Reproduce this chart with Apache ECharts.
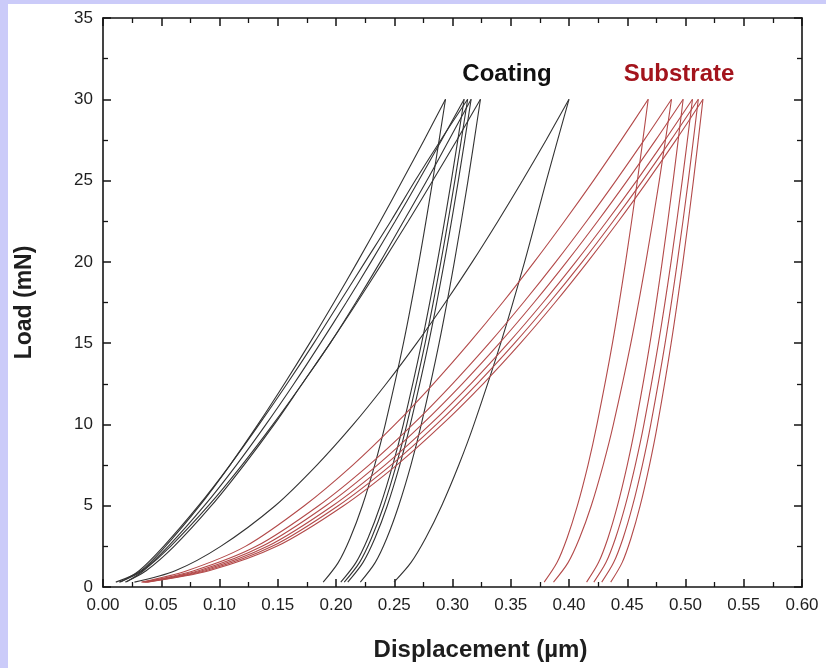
<!DOCTYPE html>
<html><head><meta charset="utf-8">
<script src="https://cdn.jsdelivr.net/npm/echarts@6/dist/echarts.min.js"></script>
<style>
html,body{margin:0;padding:0;background:#cbcbf9;width:826px;height:668px;overflow:hidden}
#chart{position:absolute;left:8px;top:4px;width:818px;height:664px;background:#fff}
</style></head><body><div id="chart"></div>
<script>
// Load levels (mN)
const loadLevels = [0.3, 1, 2.5, 5, 7.5, 10, 12.5, 15, 17.5, 20, 22.5, 25, 27.5, 30];
const unloadLevels = [30, 25, 20, 15, 10, 7.5, 5, 3, 1.5, 0.3];

// Coating: displacement (µm) on loading / unloading
const coating1Load = [0.011, 0.0326, 0.0536, 0.083, 0.109, 0.133, 0.1557, 0.1774, 0.1982, 0.2184, 0.238, 0.257, 0.2757, 0.294];
const coating2Load = [0.014, 0.0337, 0.056, 0.087, 0.1145, 0.1399, 0.1639, 0.1867, 0.2088, 0.2301, 0.2508, 0.271, 0.2907, 0.310];
const coating3Load = [0.015, 0.031, 0.052, 0.082, 0.109, 0.134, 0.158, 0.181, 0.203, 0.225, 0.247, 0.268, 0.290, 0.313];
const coating4Load = [0.019, 0.037, 0.061, 0.093, 0.121, 0.147, 0.171, 0.195, 0.217, 0.238, 0.258, 0.278, 0.297, 0.316];
const coating5Load = [0.020, 0.0347, 0.058, 0.0905, 0.1193, 0.1459, 0.171, 0.195, 0.218, 0.2403, 0.262, 0.2831, 0.3038, 0.324];
const coating6Load = [0.027, 0.062, 0.101, 0.1478, 0.1836, 0.2149, 0.2431, 0.2693, 0.2938, 0.317, 0.339, 0.3601, 0.3804, 0.400];

const coating1Unload = [0.294, 0.283, 0.2712, 0.2579, 0.2423, 0.2332, 0.2226, 0.2121, 0.2019, 0.189];
const coating2Unload = [0.310, 0.299, 0.287, 0.2735, 0.2578, 0.2487, 0.238, 0.2274, 0.2171, 0.2041];
const coating3Unload = [0.313, 0.302, 0.290, 0.2765, 0.2608, 0.2517, 0.241, 0.2304, 0.2201, 0.2071];
const coating4Unload = [0.316, 0.305, 0.293, 0.2795, 0.2638, 0.2547, 0.244, 0.2334, 0.2231, 0.2101];
const coating5Unload = [0.324, 0.3133, 0.3016, 0.2885, 0.2732, 0.2643, 0.2538, 0.2436, 0.2336, 0.2209];
const coating6Unload = [0.400, 0.3806, 0.3619, 0.3414, 0.3184, 0.3054, 0.2907, 0.2769, 0.2643, 0.2498];

// Substrate
const substrate1Load = [0.033, 0.072, 0.1222, 0.1728, 0.2144, 0.2507, 0.2836, 0.3142, 0.343, 0.3702, 0.3961, 0.421, 0.4449, 0.468];
const substrate2Load = [0.034, 0.078, 0.1315, 0.185, 0.2283, 0.266, 0.300, 0.3315, 0.3609, 0.3887, 0.4151, 0.4403, 0.4646, 0.488];
const substrate3Load = [0.035, 0.082, 0.1365, 0.1913, 0.2355, 0.2738, 0.3084, 0.3403, 0.370, 0.398, 0.4246, 0.450, 0.4745, 0.498];
const substrate4Load = [0.036, 0.085, 0.1411, 0.1971, 0.242, 0.2808, 0.3157, 0.3478, 0.3777, 0.4058, 0.4325, 0.4581, 0.4825, 0.506];
const substrate5Load = [0.037, 0.088, 0.1452, 0.2019, 0.2472, 0.2862, 0.3212, 0.3533, 0.3832, 0.4114, 0.4379, 0.4633, 0.4876, 0.511];
const substrate6Load = [0.038, 0.091, 0.1491, 0.2065, 0.2521, 0.2912, 0.3263, 0.3584, 0.3881, 0.416, 0.4425, 0.4677, 0.4919, 0.515];

const substrate1Unload = [0.468, 0.4587, 0.4486, 0.4373, 0.424, 0.4163, 0.4072, 0.3983, 0.3897, 0.3787];
const substrate2Unload = [0.488, 0.4775, 0.466, 0.4531, 0.4381, 0.4293, 0.4191, 0.409, 0.3992, 0.3867];
const substrate3Unload = [0.498, 0.4894, 0.480, 0.4695, 0.4572, 0.450, 0.4416, 0.4334, 0.4253, 0.4151];
const substrate4Unload = [0.506, 0.4972, 0.4876, 0.4768, 0.4643, 0.4569, 0.4483, 0.4399, 0.4317, 0.4213];
const substrate5Unload = [0.511, 0.5024, 0.493, 0.4825, 0.4702, 0.463, 0.4546, 0.4464, 0.4383, 0.4281];
const substrate6Unload = [0.515, 0.5068, 0.4978, 0.4877, 0.476, 0.4691, 0.4611, 0.4532, 0.4456, 0.4358];

const xTicks = [0, 0.05, 0.10, 0.15, 0.20, 0.25, 0.30, 0.35, 0.40, 0.45, 0.50, 0.55, 0.60];
const yTicks = [0, 5, 10, 15, 20, 25, 30, 35];

const FONT = '"Liberation Sans", Arial, Helvetica, sans-serif';
const AXIS_COLOR = '#151515';
const COATING_COLOR = '#333333';
const SUBSTRATE_COLOR = '#b34a4a';

const curves = [
  [coating1Load, coating1Unload, COATING_COLOR],
  [coating2Load, coating2Unload, COATING_COLOR],
  [coating3Load, coating3Unload, COATING_COLOR],
  [coating4Load, coating4Unload, COATING_COLOR],
  [coating5Load, coating5Unload, COATING_COLOR],
  [coating6Load, coating6Unload, COATING_COLOR],
  [substrate1Load, substrate1Unload, SUBSTRATE_COLOR],
  [substrate2Load, substrate2Unload, SUBSTRATE_COLOR],
  [substrate3Load, substrate3Unload, SUBSTRATE_COLOR],
  [substrate4Load, substrate4Unload, SUBSTRATE_COLOR],
  [substrate5Load, substrate5Unload, SUBSTRATE_COLOR],
  [substrate6Load, substrate6Unload, SUBSTRATE_COLOR]
];

const series = [];
curves.forEach(([ld, ul, color]) => {
  series.push({
    type: 'line', data: ld.map((x, i) => [x, loadLevels[i]]),
    symbol: 'none', smooth: 0.3, silent: true,
    lineStyle: { color: color, width: 1.1 }
  });
  series.push({
    type: 'line', data: ul.map((x, i) => [x, unloadLevels[i]]),
    symbol: 'none', smooth: 0.3, silent: true,
    lineStyle: { color: color, width: 1.1 }
  });
});

function frameAxis(extra) {
  return Object.assign({
    type: 'value',
    axisLine: { show: true, onZero: false, lineStyle: { color: AXIS_COLOR, width: 1.6 } },
    axisTick: { show: true, inside: true, length: 8, lineStyle: { color: AXIS_COLOR, width: 1.5 } },
    minorTick: { show: true, splitNumber: 2, length: 5, lineStyle: { color: AXIS_COLOR, width: 1.3 } },
    splitLine: { show: false },
    minorSplitLine: { show: false }
  }, extra);
}

const chart = echarts.init(document.getElementById('chart'), null, { renderer: 'canvas' });
chart.setOption({
  animation: false,
  backgroundColor: '#ffffff',
  grid: { left: 95, top: 14, right: 24, bottom: 81, containLabel: false, outerBoundsMode: 'none' },
  xAxis: [
    frameAxis({
      min: xTicks[0], max: xTicks[xTicks.length - 1], interval: 0.05, position: 'bottom',
      axisLabel: { fontSize: 17, color: '#1e1e1e', fontFamily: FONT, margin: 10,
        formatter: v => v.toFixed(2) },
      name: 'Displacement (µm)', nameLocation: 'middle', nameGap: 51,
      nameTextStyle: { fontSize: 24, fontWeight: 'bold', color: '#1e1e1e', fontFamily: FONT,
        padding: [0, 0, 0, 56] }
    }),
    frameAxis({
      min: xTicks[0], max: xTicks[xTicks.length - 1], interval: 0.05, position: 'top',
      axisLabel: { show: false }
    })
  ],
  yAxis: [
    frameAxis({
      min: yTicks[0], max: yTicks[yTicks.length - 1], interval: 5, position: 'left',
      axisLabel: { fontSize: 17, color: '#1e1e1e', fontFamily: FONT, margin: 10 },
      name: 'Load (mN)', nameLocation: 'middle', nameGap: 67,
      nameTextStyle: { fontSize: 23, fontWeight: 'bold', color: '#1e1e1e', fontFamily: FONT }
    }),
    frameAxis({
      min: yTicks[0], max: yTicks[yTicks.length - 1], interval: 5, position: 'right',
      axisLabel: { show: false }
    })
  ],
  graphic: [
    { type: 'text', x: 499, y: 70, silent: true,
      style: { text: 'Coating', font: 'bold 24px ' + FONT, fill: '#111111', align: 'center', verticalAlign: 'middle' } },
    { type: 'text', x: 671, y: 70, silent: true,
      style: { text: 'Substrate', font: 'bold 24px ' + FONT, fill: '#a3141c', align: 'center', verticalAlign: 'middle' } }
  ],
  series: series
});
</script></body></html>
